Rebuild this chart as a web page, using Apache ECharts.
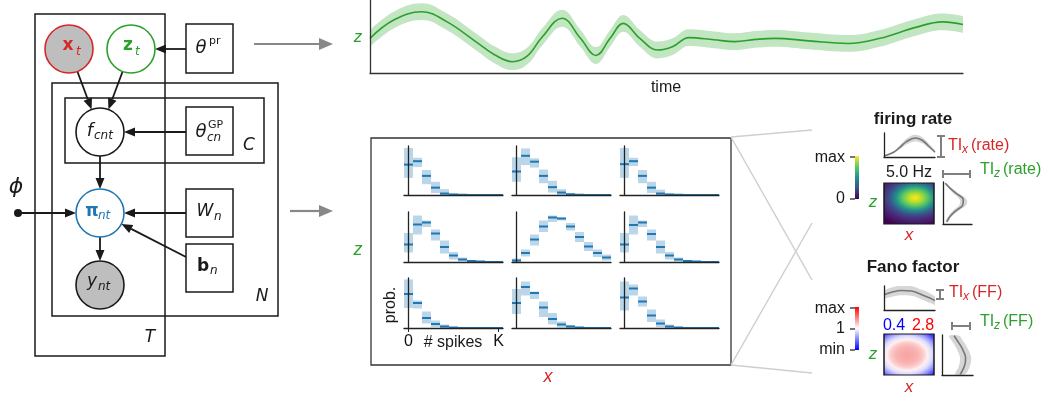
<!DOCTYPE html>
<html>
<head>
<meta charset="utf-8">
<script src="https://cdn.jsdelivr.net/npm/echarts@6/dist/echarts.min.js"></script>
<style>
  html, body { margin: 0; padding: 0; background: #fff; }
  #chart { width: 1051px; height: 394px; }
</style>
</head>
<body>
<div id="chart"></div>
<script>
  // latent trajectory z(t)
  const zTimes = [0, 4, 8.7, 13, 18, 21, 24, 26.5, 29, 32.4, 35.5, 38.1, 40.5, 42.7, 45.5, 48.5, 51, 53.8, 58, 61.5, 65, 68.3, 74, 80.6, 86, 92, 96.6, 100];
  const zMean = [4.75, 7.25, 8.4, 7.0, 4.2, 2.5, 1.55, 2.3, 4.9, 7.5, 4.75, 2.4, 4.75, 6.8, 4.75, 3.15, 3.6, 4.85, 4.55, 4.3, 4.6, 4.75, 4.4, 4.05, 4.75, 6.25, 7.0, 6.65];
  const zBandHalf = 1.15;

  // spike count distributions (bins 0..K), mean and interval, row/col of the 3x3 grid
  const bins = [0, 1, 2, 3, 4, 5, 6, 7, 8, 9, 10];
  const h11Mean = [0.62, 0.69, 0.39, 0.15, 0.03, 0.01, 0.005, 0, 0, 0, 0];
  const h11Lo = [0.35, 0.57, 0.22, 0.04, 0, 0, 0, 0, 0, 0, 0];
  const h11Hi = [0.96, 0.76, 0.51, 0.27, 0.12, 0.03, 0.01, 0, 0, 0, 0];
  const h12Mean = [0.48, 0.80, 0.68, 0.39, 0.16, 0.05, 0.015, 0.005, 0, 0, 0];
  const h12Lo = [0.27, 0.61, 0.56, 0.24, 0.05, 0, 0, 0, 0, 0, 0];
  const h12Hi = [0.77, 0.95, 0.75, 0.52, 0.29, 0.12, 0.03, 0.01, 0, 0, 0];
  const h13Mean = [0.63, 0.69, 0.39, 0.15, 0.03, 0.01, 0.005, 0, 0, 0, 0];
  const h13Lo = [0.35, 0.59, 0.24, 0.04, 0, 0, 0, 0, 0, 0, 0];
  const h13Hi = [0.96, 0.76, 0.51, 0.27, 0.11, 0.03, 0.01, 0, 0, 0, 0];
  const h21Mean = [0.35, 0.75, 0.79, 0.57, 0.30, 0.13, 0.05, 0.02, 0.01, 0, 0];
  const h21Lo = [0.19, 0.55, 0.70, 0.43, 0.17, 0.05, 0.01, 0, 0, 0, 0];
  const h21Hi = [0.58, 0.93, 0.83, 0.65, 0.43, 0.20, 0.09, 0.04, 0.02, 0, 0];
  const h22Mean = [0.03, 0.18, 0.45, 0.71, 0.89, 0.87, 0.71, 0.50, 0.31, 0.18, 0.09];
  const h22Lo = [0, 0.11, 0.33, 0.60, 0.80, 0.83, 0.63, 0.40, 0.22, 0.10, 0.03];
  const h22Hi = [0.07, 0.25, 0.55, 0.83, 0.93, 0.89, 0.78, 0.60, 0.40, 0.25, 0.15];
  const h23Mean = [0.35, 0.74, 0.79, 0.56, 0.30, 0.13, 0.05, 0.02, 0.01, 0, 0];
  const h23Lo = [0.19, 0.55, 0.70, 0.43, 0.17, 0.05, 0.01, 0, 0, 0, 0];
  const h23Hi = [0.58, 0.93, 0.83, 0.65, 0.43, 0.20, 0.09, 0.04, 0.02, 0, 0];
  const h31Mean = [0.68, 0.50, 0.20, 0.08, 0.03, 0.01, 0, 0, 0, 0, 0];
  const h31Lo = [0.40, 0.39, 0.09, 0.02, 0, 0, 0, 0, 0, 0, 0];
  const h31Hi = [0.97, 0.55, 0.33, 0.15, 0.07, 0.02, 0, 0, 0, 0, 0];
  const h32Mean = [0.50, 0.82, 0.70, 0.41, 0.18, 0.07, 0.03, 0.01, 0, 0, 0];
  const h32Lo = [0.28, 0.65, 0.58, 0.22, 0.07, 0.01, 0, 0, 0, 0, 0];
  const h32Hi = [0.78, 0.93, 0.73, 0.53, 0.30, 0.13, 0.06, 0.02, 0, 0, 0];
  const h33Mean = [0.61, 0.79, 0.53, 0.25, 0.09, 0.03, 0.01, 0, 0, 0, 0];
  const h33Lo = [0.35, 0.65, 0.43, 0.12, 0.02, 0, 0, 0, 0, 0, 0];
  const h33Hi = [0.93, 0.87, 0.63, 0.37, 0.17, 0.07, 0.02, 0, 0, 0, 0];

  // tuning curves (normalised)
  const rateX = [0, 1.8, 3.1, 4.4, 6.1, 7.4, 8.7, 10];
  const rateXMean = [0.04, 0.19, 0.40, 0.64, 0.79, 0.71, 0.47, 0.21];
  const rateXHalf = [0.02, 0.04, 0.08, 0.12, 0.14, 0.13, 0.10, 0.06];
  const rateZ = [0.97, 0.85, 0.72, 0.58, 0.45, 0.32, 0.18, 0.05];
  const rateZMean = [0.08, 0.25, 0.47, 0.70, 0.68, 0.45, 0.24, 0.13];
  const rateZHalf = [0.03, 0.06, 0.10, 0.12, 0.12, 0.10, 0.06, 0.04];
  const ffX = [0, 1.8, 3.5, 5.4, 7.4, 9.0, 10];
  const ffXMean = [0.64, 0.76, 0.81, 0.79, 0.64, 0.50, 0.39];
  const ffXHalf = [0.18, 0.2, 0.2, 0.2, 0.2, 0.2, 0.18];
  const ffZ = [0.98, 0.85, 0.72, 0.58, 0.44, 0.30, 0.16, 0.02];
  const ffZMean = [0.39, 0.50, 0.61, 0.70, 0.76, 0.75, 0.69, 0.59];
  const ffZHalf = [0.16, 0.18, 0.18, 0.18, 0.18, 0.18, 0.18, 0.16];

  const ink = '#1a1a1a';
  const red = '#d62728', green = '#2ca02c', blue = '#1f77b4';
  const sans = 'Liberation Sans';
  const dv = 'DejaVu Sans';

  const chart = echarts.init(document.getElementById('chart'));

  // ---------- grids / axes ----------
  const grids = [], xAxes = [], yAxes = [], series = [];
  function addGrid(left, top, width, height, xmin, xmax, ymin, ymax, lineColor) {
    grids.push({ left, top, width, height });
    const i = grids.length - 1;
    const line = { show: true, lineStyle: { color: lineColor || '#222', width: 1.3 } };
    xAxes.push({ type: 'value', gridIndex: i, min: xmin, max: xmax, axisLine: line, z: 10,
      axisTick: { show: false }, axisLabel: { show: false }, splitLine: { show: false } });
    yAxes.push({ type: 'value', gridIndex: i, min: ymin, max: ymax, axisLine: line, z: 10,
      axisTick: { show: false }, axisLabel: { show: false }, splitLine: { show: false } });
    return i;
  }

  // band between two smoothed lines: upper filled, lower masked with white
  function bandLines(g, xs, mean, half, fill, lineColor, lineW, smooth) {
    series.push({
      type: 'line', xAxisIndex: g, yAxisIndex: g, smooth, symbol: 'none', silent: true, z: 1,
      lineStyle: { width: 0, opacity: 0 }, areaStyle: { color: fill, opacity: 1 },
      data: xs.map((x, i) => [x, mean[i] + (Array.isArray(half) ? half[i] : half)]),
    });
    series.push({
      type: 'line', xAxisIndex: g, yAxisIndex: g, smooth, symbol: 'none', silent: true, z: 2,
      lineStyle: { width: 0, opacity: 0 }, areaStyle: { color: '#fff', opacity: 1 },
      data: xs.map((x, i) => [x, mean[i] - (Array.isArray(half) ? half[i] : half)]),
    });
    series.push({
      type: 'line', xAxisIndex: g, yAxisIndex: g, smooth, symbol: 'none', z: 3,
      lineStyle: { color: lineColor, width: lineW },
      data: xs.map((x, i) => [x, mean[i]]),
    });
  }

  // top trajectory panel
  const gTop = addGrid(370, 0, 593, 73, 0, 100, 0, 10, '#333');
  bandLines(gTop, zTimes, zMean, zBandHalf, '#c2e5c2', green, 1.6, 0.4);

  // 3x3 spike count panels
  const histSets = [
    [h11Mean, h11Lo, h11Hi], [h12Mean, h12Lo, h12Hi], [h13Mean, h13Lo, h13Hi],
    [h21Mean, h21Lo, h21Hi], [h22Mean, h22Lo, h22Hi], [h23Mean, h23Lo, h23Hi],
    [h31Mean, h31Lo, h31Hi], [h32Mean, h32Lo, h32Hi], [h33Mean, h33Lo, h33Hi],
  ];
  const colLeft = [404, 512, 620];
  const rowTop = [146, 212, 278];
  const rowH = [49, 50, 50];

  function histRender(params, api) {
    const b = api.value(0), m = api.value(1), lo = api.value(2), hi = api.value(3);
    const a = api.coord([b - 0.5, hi]), c = api.coord([b + 0.5, lo]);
    const l = api.coord([b - 0.5, m]), r = api.coord([b + 0.5, m]);
    const ch = [];
    if (hi - lo > 0.004) {
      ch.push({ type: 'rect', shape: { x: a[0], y: a[1], width: c[0] - a[0], height: c[1] - a[1] },
        style: { fill: 'rgba(31,119,180,0.3)' } });
    }
    ch.push({ type: 'line', shape: { x1: l[0], y1: l[1], x2: r[0], y2: r[1] },
      style: { stroke: blue, lineWidth: 2 } });
    return { type: 'group', children: ch };
  }

  histSets.forEach((set, k) => {
    const r = Math.floor(k / 3), c = k % 3;
    const g = addGrid(colLeft[c], rowTop[r], 99, rowH[r], -0.5, 10.5, 0, 1, '#222');
    if (k === 6) {
      xAxes[g].axisTick = { show: true, customValues: [0, 10], length: 4, lineStyle: { color: '#222' } };
      xAxes[g].axisLabel = { show: true, customValues: [0, 10], margin: 6, fontSize: 16, color: '#111',
        fontFamily: sans, formatter: (v) => (v === 0 ? '0' : 'K') };
    }
    series.push({
      type: 'custom', xAxisIndex: g, yAxisIndex: g, renderItem: histRender,
      data: bins.map((b, i) => [b, set[0][i], set[1][i], set[2][i]]),
    });
  });

  // tuning curve panels
  function curveZ(g, zs, mean, half) {
    const rt = zs.map((z, i) => [mean[i] + half[i], z]);
    const lf = zs.map((z, i) => [mean[i] - half[i], z]).reverse();
    const pts = rt.concat(lf);
    series.push({
      type: 'custom', xAxisIndex: g, yAxisIndex: g, silent: true, data: [[0, 0]], clip: true,
      renderItem: (params, api) => ({
        type: 'polygon',
        shape: { points: pts.map((p) => api.coord(p)), smooth: 0.35 },
        style: { fill: '#d6d6d6' },
      }),
    });
    series.push({ type: 'line', xAxisIndex: g, yAxisIndex: g, smooth: 0.4, symbol: 'none',
      lineStyle: { color: '#777', width: 1.6 }, data: zs.map((z, i) => [mean[i], z]) });
  }
  bandLines(addGrid(884, 133, 51, 24, 0, 10, 0, 1), rateX, rateXMean, rateXHalf, '#d6d6d6', '#777', 1.6, 0.4);
  curveZ(addGrid(943, 182, 29, 42, 0, 1, 0, 1), rateZ, rateZMean, rateZHalf);
  bandLines(addGrid(884, 286, 51, 24, 0, 10, 0, 1), ffX, ffXMean, ffXHalf, '#d6d6d6', '#777', 1.6, 0.4);
  curveZ(addGrid(942, 335, 31, 40, 0, 1, 0, 1), ffZ, ffZMean, ffZHalf);

  // ---------- drawn elements ----------
  const G = [];
  function txt(x, y, s, o) {
    G.push({ type: 'text', x, y, z: 50, style: Object.assign({
      text: s, fill: ink, fontSize: 16, fontFamily: sans, align: 'center', verticalAlign: 'middle',
    }, o || {}) });
  }
  function box(x1, y1, x2, y2, color, lw) {
    G.push({ type: 'rect', z: 40, shape: { x: x1, y: y1, width: x2 - x1, height: y2 - y1 },
      style: { fill: null, stroke: color || ink, lineWidth: lw || 1.5 } });
  }
  function seg(x1, y1, x2, y2, color, lw) {
    G.push({ type: 'line', z: 40, shape: { x1, y1, x2, y2 }, style: { stroke: color, lineWidth: lw } });
  }
  function arrow(x1, y1, x2, y2, color, lw, hl, hw) {
    const dx = x2 - x1, dy = y2 - y1, L = Math.hypot(dx, dy), ux = dx / L, uy = dy / L;
    const bx = x2 - ux * hl, by = y2 - uy * hl;
    seg(x1, y1, bx, by, color, lw);
    G.push({ type: 'polygon', z: 41, shape: { points: [[x2, y2],
      [bx - uy * hw / 2, by + ux * hw / 2], [bx + uy * hw / 2, by - ux * hw / 2]] },
      style: { fill: color } });
  }
  function node(cx, cy, fill, stroke) {
    G.push({ type: 'circle', z: 45, shape: { cx, cy, r: 24 }, style: { fill, stroke, lineWidth: 1.6 } });
  }

  // plates
  box(35, 14, 165, 356);
  box(52, 83, 278, 316);
  box(65, 98, 264, 163);
  box(186, 24, 233, 73);
  box(186, 107, 233, 155);
  box(186, 189, 233, 237);
  box(186, 244, 233, 292);

  // edges
  arrow(186, 49, 155, 49, ink, 1.8, 11, 9);
  arrow(77.4, 71.5, 91.6, 109.5, ink, 1.8, 11, 9);
  arrow(122.6, 71.5, 108.4, 109.5, ink, 1.8, 11, 9);
  arrow(186, 132, 124, 132, ink, 1.8, 11, 9);
  arrow(100, 156, 100, 189, ink, 1.8, 11, 9);
  arrow(18, 213, 76, 213, ink, 1.8, 11, 9);
  arrow(186, 213, 124, 213, ink, 1.8, 11, 9);
  arrow(186, 257, 121.4, 223.9, ink, 1.8, 11, 9);
  arrow(100, 237, 100, 261, ink, 1.8, 11, 9);
  G.push({ type: 'circle', z: 45, shape: { cx: 18, cy: 213, r: 4 }, style: { fill: ink } });

  // nodes
  node(69, 49, '#bebebe', red);
  node(131, 49, '#fff', green);
  node(100, 132, '#fff', ink);
  node(100, 213, '#fff', blue);
  node(100, 285, '#bebebe', ink);

  // node labels
  const it = { fontFamily: dv, fontStyle: 'italic' };
  txt(68, 46, 'x', { fontFamily: dv, fontWeight: 'bold', fontSize: 17, fill: red });
  txt(76, 52, 't', Object.assign({ fontSize: 12, fill: red, align: 'left' }, it));
  txt(128, 46, 'z', { fontFamily: dv, fontWeight: 'bold', fontSize: 17, fill: green });
  txt(135, 52, 't', Object.assign({ fontSize: 12, fill: green, align: 'left' }, it));
  txt(90, 131, 'f', Object.assign({ fontSize: 18 }, it));
  txt(94, 136, 'cnt', Object.assign({ fontSize: 12, align: 'left' }, it));
  txt(92, 212, 'π', { fontFamily: dv, fontWeight: 'bold', fontSize: 17, fill: blue });
  txt(98, 216, 'nt', Object.assign({ fontSize: 12, fill: blue, align: 'left' }, it));
  txt(92, 282, 'y', Object.assign({ fontSize: 17 }, it));
  txt(98, 287, 'nt', Object.assign({ fontSize: 12, align: 'left' }, it));
  txt(201, 48, 'θ', Object.assign({ fontSize: 18 }, it));
  txt(209, 41, 'pr', { fontFamily: dv, fontSize: 11, align: 'left' });
  txt(201, 132, 'θ', Object.assign({ fontSize: 18 }, it));
  txt(208, 125, 'GP', { fontFamily: dv, fontSize: 11, align: 'left' });
  txt(207, 138, 'cn', Object.assign({ fontSize: 12, align: 'left' }, it));
  txt(205, 212, 'W', Object.assign({ fontSize: 17 }, it));
  txt(214, 217, 'n', Object.assign({ fontSize: 12, align: 'left' }, it));
  txt(203, 267, 'b', { fontFamily: dv, fontWeight: 'bold', fontSize: 17 });
  txt(210, 271, 'n', Object.assign({ fontSize: 12, align: 'left' }, it));
  txt(249, 146, 'C', Object.assign({ fontSize: 17 }, it));
  txt(262, 297, 'N', Object.assign({ fontSize: 17 }, it));
  txt(150, 338, 'T', Object.assign({ fontSize: 17 }, it));
  txt(16, 187, 'ϕ', Object.assign({ fontSize: 22 }, it));

  // grey flow arrows
  arrow(254, 44, 333, 44, '#888', 2.2, 14, 12);
  arrow(290, 211, 333, 211, '#888', 2.2, 14, 12);

  // top panel labels
  txt(358, 37, 'z', { fill: green, fontStyle: 'italic', fontSize: 17 });
  txt(666, 88, 'time', { fontSize: 16 });

  // spike count panel frame + labels
  box(371, 138, 731, 365, '#333', 1.3);
  txt(358, 250, 'z', { fill: green, fontStyle: 'italic', fontSize: 18 });
  txt(548, 377, 'x', { fill: red, fontStyle: 'italic', fontSize: 18 });
  txt(453, 343, '# spikes', { fontSize: 16 });
  G.push({ type: 'text', x: 391, y: 305, rotation: Math.PI / 2, z: 50,
    style: { text: 'prob.', fill: ink, fontSize: 16, fontFamily: sans, align: 'center', verticalAlign: 'middle' } });

  // zoom connector lines
  const lc = '#cfcfcf';
  seg(731, 137, 812, 130, lc, 1.5);
  seg(731, 137, 812, 280, lc, 1.5);
  seg(731, 365, 812, 223, lc, 1.5);
  seg(731, 365, 812, 373, lc, 1.5);

  // firing rate panel
  txt(913, 119, 'firing rate', { fontWeight: 'bold', fontSize: 17 });
  txt(909, 173, '5.0 Hz', { fontSize: 16 });
  const eb = '#7f7f7f';
  seg(941, 136, 941, 157, eb, 2); seg(937, 136, 945, 136, eb, 2); seg(937, 157, 945, 157, eb, 2);
  seg(943, 174, 970, 174, eb, 2); seg(943, 170, 943, 178, eb, 2); seg(970, 170, 970, 178, eb, 2);
  txt(948, 146, 'TI', { fill: red, fontSize: 16, align: 'left' });
  txt(962, 150, 'x', { fill: red, fontSize: 12, fontStyle: 'italic', align: 'left' });
  txt(971, 146, '(rate)', { fill: red, fontSize: 16, align: 'left' });
  txt(980, 170, 'TI', { fill: green, fontSize: 16, align: 'left' });
  txt(994, 174, 'z', { fill: green, fontSize: 12, fontStyle: 'italic', align: 'left' });
  txt(1003, 170, '(rate)', { fill: green, fontSize: 16, align: 'left' });
  txt(873, 202, 'z', { fill: green, fontStyle: 'italic', fontSize: 17 });
  txt(909, 235, 'x', { fill: red, fontStyle: 'italic', fontSize: 17 });
  // rate map
  G.push({ type: 'rect', z: 30, x: 884, y: 183, scaleY: 0.65,
    shape: { x: 0, y: 0, width: 50, height: 41 / 0.65 },
    style: { stroke: ink, lineWidth: 1.5, strokeNoScale: true, fill: {
      type: 'radial', x: 31, y: 23, r: 45, global: true, colorStops: [
        { offset: 0, color: '#fde725' }, { offset: 0.13, color: '#c2df23' },
        { offset: 0.27, color: '#5ec962' }, { offset: 0.42, color: '#21918c' },
        { offset: 0.57, color: '#3b528b' }, { offset: 0.72, color: '#472d7b' },
        { offset: 1, color: '#440154' }] } } });
  // viridis colour bar
  G.push({ type: 'rect', z: 30, shape: { x: 855, y: 156, width: 4, height: 43 },
    style: { fill: { type: 'linear', x: 0, y: 1, x2: 0, y2: 0, colorStops: [
      { offset: 0, color: '#440154' }, { offset: 0.25, color: '#3b528b' },
      { offset: 0.5, color: '#21918c' }, { offset: 0.75, color: '#5ec962' },
      { offset: 1, color: '#fde725' }] } } });
  seg(850, 157, 855, 157, ink, 1.2); seg(850, 199, 855, 199, ink, 1.2);
  txt(845, 158, 'max', { fontSize: 16, align: 'right' });
  txt(845, 199, '0', { fontSize: 16, align: 'right' });

  // Fano factor panel
  txt(913, 267, 'Fano factor', { fontWeight: 'bold', fontSize: 17 });
  seg(940, 290, 940, 299, eb, 2); seg(936, 290, 944, 290, eb, 2); seg(936, 299, 944, 299, eb, 2);
  seg(952, 326, 970, 326, eb, 2); seg(952, 322, 952, 330, eb, 2); seg(970, 322, 970, 330, eb, 2);
  txt(949, 293, 'TI', { fill: red, fontSize: 16, align: 'left' });
  txt(963, 297, 'x', { fill: red, fontSize: 12, fontStyle: 'italic', align: 'left' });
  txt(972, 293, '(FF)', { fill: red, fontSize: 16, align: 'left' });
  txt(980, 322, 'TI', { fill: green, fontSize: 16, align: 'left' });
  txt(994, 326, 'z', { fill: green, fontSize: 12, fontStyle: 'italic', align: 'left' });
  txt(1003, 322, '(FF)', { fill: green, fontSize: 16, align: 'left' });
  txt(894, 326, '0.4', { fill: '#0000ff', fontSize: 16 });
  txt(923, 326, '2.8', { fill: '#ff0000', fontSize: 16 });
  txt(873, 354, 'z', { fill: green, fontStyle: 'italic', fontSize: 17 });
  txt(909, 387, 'x', { fill: red, fontStyle: 'italic', fontSize: 17 });
  G.push({ type: 'rect', z: 30, x: 884, y: 334, scaleY: 0.75,
    shape: { x: 0, y: 0, width: 50, height: 41 / 0.75 },
    style: { stroke: ink, lineWidth: 1.5, strokeNoScale: true, fill: {
      type: 'radial', x: 23, y: 28, r: 36, global: true, colorStops: [
        { offset: 0, color: '#f8a2a2' }, { offset: 0.3, color: '#f9b2b2' },
        { offset: 0.45, color: '#fccaca' }, { offset: 0.57, color: '#fff0f0' },
        { offset: 0.7, color: '#dcdcff' }, { offset: 0.85, color: '#9494ff' },
        { offset: 1, color: '#3535ff' }] } } });
  // bwr colour bar
  G.push({ type: 'rect', z: 30, shape: { x: 855, y: 307, width: 4, height: 43 },
    style: { fill: { type: 'linear', x: 0, y: 1, x2: 0, y2: 0, colorStops: [
      { offset: 0, color: '#0000ff' }, { offset: 0.5, color: '#ffffff' },
      { offset: 1, color: '#ff0000' }] } } });
  seg(850, 308, 855, 308, ink, 1.2); seg(850, 329, 855, 329, ink, 1.2); seg(850, 350, 855, 350, ink, 1.2);
  txt(845, 309, 'max', { fontSize: 16, align: 'right' });
  txt(845, 329, '1', { fontSize: 16, align: 'right' });
  txt(845, 350, 'min', { fontSize: 16, align: 'right' });

  chart.setOption({
    animation: false,
    backgroundColor: '#fff',
    grid: grids,
    xAxis: xAxes,
    yAxis: yAxes,
    series,
    graphic: { elements: G },
  });
</script>
</body>
</html>
